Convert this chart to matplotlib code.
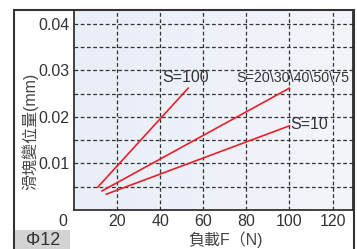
import matplotlib.pyplot as plt
import matplotlib.patches as patches
import numpy as np

plt.rcParams['font.family'] = ['Liberation Sans', 'Noto Sans CJK TC']

# load vs displacement lines (N, mm)
s100_x = [11, 53]
s100_y = [0.0049, 0.0262]
s20_x = [13, 100]
s20_y = [0.0041, 0.0262]
s10_x = [15, 100]
s10_y = [0.0034, 0.0181]

xticks = [20, 40, 60, 80, 100, 120]
yticks = [0.01, 0.02, 0.03, 0.04]

W, H = 357, 249
fig = plt.figure(figsize=(W / 100, H / 100), dpi=100)
fig.patch.set_facecolor('white')

ax = fig.add_axes([74 / W, (H - 210) / H, (353 - 74) / W, 200 / H])
ax.set_xlim(0, 129.5)
ax.set_ylim(0, 0.043)

# light blue background gradient
grad = np.linspace(0, 1, 256).reshape(1, -1)
bg = plt.matplotlib.colors.LinearSegmentedColormap.from_list('bg', ['#e9eef7', '#f3f5fa'])
ax.imshow(grad, extent=[0, 129.5, 0, 0.043], aspect='auto', cmap=bg, zorder=0)

for gx in xticks:
    ax.axvline(gx, color='#333333', lw=0.9, ls=(0, (3, 2)), zorder=1)
for gy in np.arange(0.005, 0.043, 0.005):
    ax.axhline(gy, color='#333333', lw=0.9, ls=(0, (3, 2)), zorder=1)

red = '#e8202a'
ax.plot(s100_x, s100_y, color=red, lw=1.2, zorder=3)
ax.plot(s20_x, s20_y, color=red, lw=1.2, zorder=3)
ax.plot(s10_x, s10_y, color=red, lw=1.2, zorder=3)

fs = 11.5
ax.text(41.0, 0.0284, 'S=100', fontsize=fs, color='#333333', va='center', ha='left', zorder=4)
ax.text(75.5, 0.0284, 'S=20\\30\\40\\50\\75', fontsize=10.3, color='#333333', va='center', ha='left', zorder=4)
ax.text(100.5, 0.0183, 'S=10', fontsize=fs, color='#333333', va='center', ha='left', zorder=4)

ax.set_xticks(xticks)
ax.set_yticks(yticks)
ax.set_xticklabels([str(v) for v in xticks])
ax.set_yticklabels(['0.01', '0.02', '0.03', '0.04'])
ax.tick_params(axis='both', length=0, labelsize=fs, labelcolor='#333333', pad=3)
ax.text(-0.025, -0.02, '0', transform=ax.transAxes, fontsize=fs, color='#333333', ha='right', va='top')

for sp in ax.spines.values():
    sp.set_color('#222222')
    sp.set_linewidth(1.2)

fig.text(30 / W, 1 - 131 / H, '滑塊變位量(mm)', rotation=90, fontsize=11.5, color='#444444', ha='center', va='center')
fig.text(225 / W, 1 - 240 / H, '負載F（N)', fontsize=11.5, color='#444444', ha='center', va='center')

# outer frame and label box
fig.add_artist(patches.Rectangle((14 / W, -0.1), (354 - 14) / W, 1.1 - 10 / H, transform=fig.transFigure, fill=False, ec='#333333', lw=1.5))
fig.add_artist(patches.Rectangle((15 / W, 0), (70 - 15) / W, (H - 230) / H, transform=fig.transFigure, fc='#d3d3d3', ec='none'))
fig.text(43 / W, 1 - 240 / H, 'Φ12', fontsize=13, color='#333333', ha='center', va='center')

fig.savefig('out.png', dpi=100)
